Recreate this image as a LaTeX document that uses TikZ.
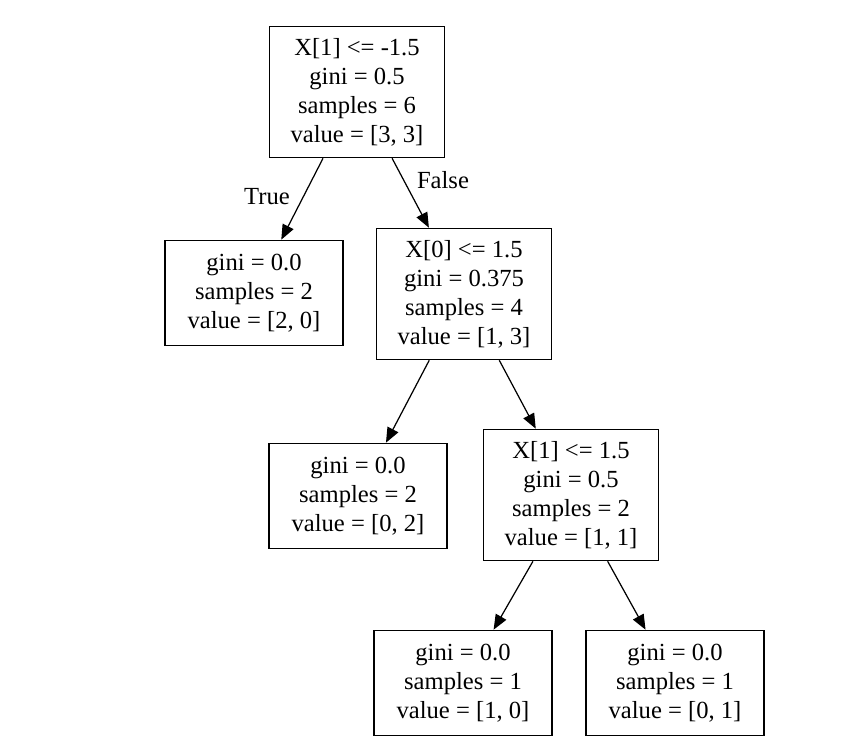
\documentclass[tikz,border=0pt]{standalone}
\usepackage{fontspec}
\setmainfont{Liberation Serif}
\usetikzlibrary{positioning,arrows.meta}

\begin{document}
\begin{tikzpicture}[
    every node/.style={font=\fontsize{14}{16.5}\selectfont},
    split/.style={rectangle, draw=black, line width=0.9pt, align=center, minimum width=3.5cm, minimum height=2.62cm, inner sep=2pt},
    leaf/.style={rectangle, draw=black, line width=0.9pt, align=center, minimum width=3.55cm, minimum height=2.1cm, inner sep=2pt},
    lbl/.style={inner sep=1pt},
    arrow/.style={-{Triangle[length=0.3cm, width=0.24cm]}, line width=0.7pt},
]
\useasboundingbox (0,0) rectangle (17.06,15.06);

% Root split
\node[split] (root) at (7.14,13.22) {X[1] <= -1.5\\gini = 0.5\\samples = 6\\value = [3, 3]};

% Second level
\node[leaf] (leafA) at (5.08,9.20) {gini = 0.0\\samples = 2\\value = [2, 0]};
\node[split] (splitA) at (9.28,9.18) {X[0] <= 1.5\\gini = 0.375\\samples = 4\\value = [1, 3]};

% Third level
\node[leaf] (leafB) at (7.16,5.14) {gini = 0.0\\samples = 2\\value = [0, 2]};
\node[split] (splitB) at (11.42,5.16) {X[1] <= 1.5\\gini = 0.5\\samples = 2\\value = [1, 1]};

% Bottom leaves
\node[leaf] (leafC) at (9.26,1.40) {gini = 0.0\\samples = 1\\value = [1, 0]};
\node[leaf] (leafD) at (13.50,1.40) {gini = 0.0\\samples = 1\\value = [0, 1]};

% Edge labels
\node[lbl] (truelbl) at (5.34,11.12) {True};
\node[lbl] (falselbl) at (8.86,11.46) {False};

% Arrows
\draw[arrow] (root) -- (leafA);
\draw[arrow] (root) -- (splitA);
\draw[arrow] (splitA) -- (leafB);
\draw[arrow] (splitA) -- (splitB);
\draw[arrow] (splitB) -- (leafC);
\draw[arrow] (splitB) -- (leafD);

\end{tikzpicture}
\end{document}
